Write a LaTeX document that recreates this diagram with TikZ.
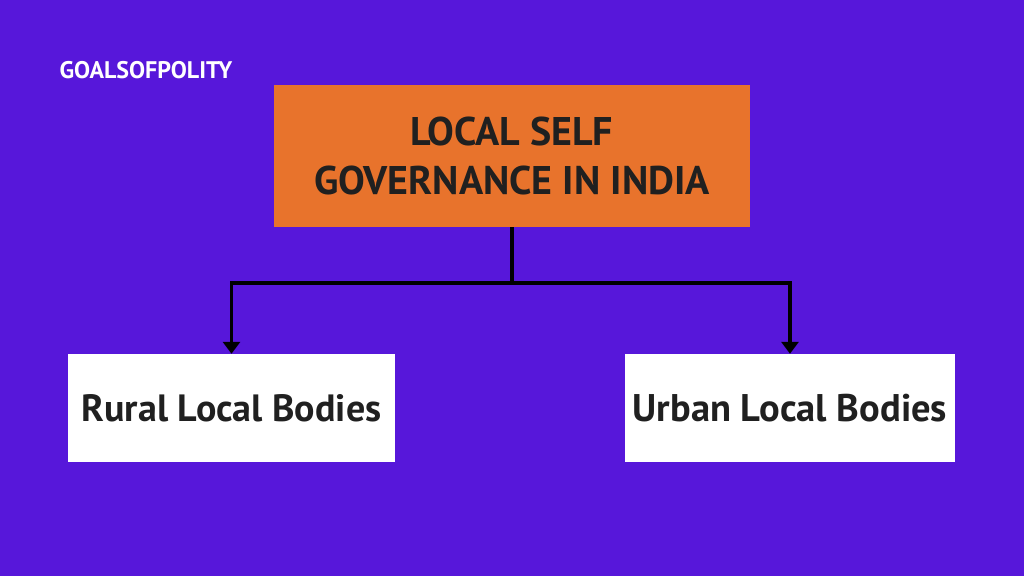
\documentclass[tikz,border=0pt]{standalone}
\usepackage{fontspec}
\setmainfont{PT Sans}
\usetikzlibrary{arrows.meta}
\definecolor{fond}{RGB}{87,23,218}
\definecolor{orange}{RGB}{232,115,44}
\definecolor{encre}{RGB}{32,32,32}
\begin{document}
\begin{tikzpicture}[x=1pt,y=1pt,
	boite/.style={rectangle,inner sep=0pt,align=center,text=encre,font=\bfseries},
	fleche/.style={line width=3.8pt,-{Triangle[length=12pt,width=17pt]}}]
%					Tracé du fond :
					\fill[fond] (0,0) rectangle (1024,576);
					\node[text=white,font=\bfseries\fontsize{24}{28}\selectfont,anchor=west] (signature) at (56,506) {GOALSOFPOLITY};
%					Tracé des boîtes :
					\node[boite,fill=orange,minimum width=476pt,minimum height=142pt,font=\bfseries\fontsize{40}{49}\selectfont] (titre) at (512,420) {LOCAL SELF\\GOVERNANCE IN INDIA};
					\node[boite,fill=white,minimum width=327pt,minimum height=108pt,font=\bfseries\fontsize{38}{40}\selectfont] (rural) at (231.5,168) {Rural Local Bodies};
					\node[boite,fill=white,minimum width=330pt,minimum height=108pt,font=\bfseries\fontsize{38.5}{40}\selectfont] (urbain) at (790,168) {Urban Local Bodies};
%					Tracé des flèches :
					\coordinate (jonction) at (512,293);
					\draw[line width=3.8pt] (titre.south) -- (jonction);
					\draw[fleche] (jonction) -| (rural.north);
					\draw[fleche] (jonction) -| (urbain.north);
				\end{tikzpicture}
\end{document}
